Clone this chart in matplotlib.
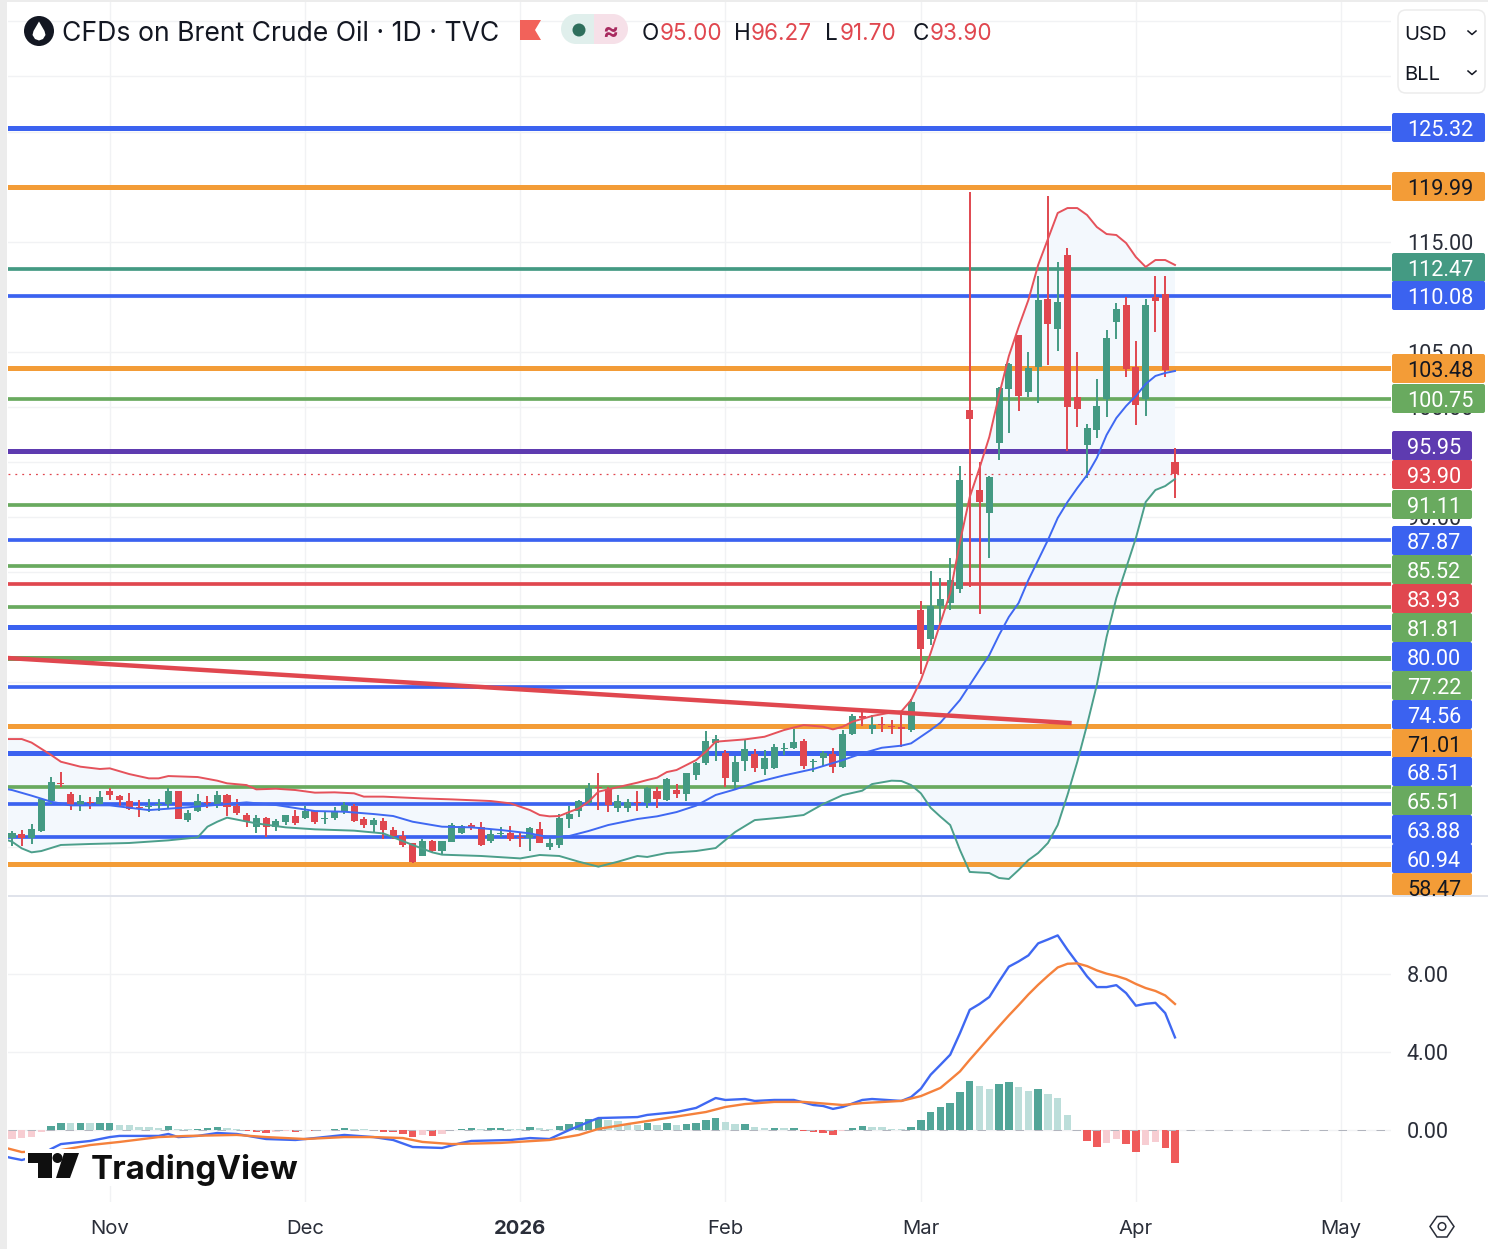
import numpy as np
import matplotlib
matplotlib.use("Agg")
import matplotlib.pyplot as plt
from matplotlib.patches import Rectangle, FancyBboxPatch, Circle, Polygon

plt.rcParams['font.family'] = ['Inter', 'DejaVu Sans']
NUM_FONT = ['Roboto', 'DejaVu Sans']

W, H_PX = 1488, 1249

# daily candles
opens = [60.86,61.22,60.80,61.47,64.16,65.86,64.86,63.74,64.10,63.92,
         65.10,64.68,64.16,63.62,63.68,63.86,63.89,65.07,62.47,63.25,
         64.10,63.92,64.71,63.71,62.89,61.80,62.65,61.86,62.28,62.80,
         62.65,63.25,62.56,62.62,63.16,63.71,62.56,62.01,62.37,61.53,
         61.01,60.35,59.23,60.59,59.62,60.50,61.32,62.01,61.80,60.56,
         61.16,61.25,60.89,60.86,61.65,59.98,60.17,62.53,63.28,64.01,
         65.43,65.28,63.59,63.59,64.13,64.04,65.07,64.28,65.18,64.86,
         66.55,67.64,69.43,68.52,65.95,67.82,68.46,67.13,67.16,68.94,
         68.97,69.64,67.70,68.07,68.46,67.25,70.25,71.88,70.76,71.15,
         70.97,70.91,70.64,81.54,78.91,81.91,82.18,83.45,99.71,92.44,
         90.35,96.71,101.61,106.52,101.34,103.61,109.79,107.06,113.79,100.89,
         96.53,97.89,100.71,107.70,109.24,103.61,100.71,109.97,110.24,95.00]
closes = [61.28,60.86,61.62,64.37,65.89,65.77,63.77,64.22,63.98,64.55,
          64.74,64.25,63.49,63.53,63.77,63.95,65.10,62.56,63.07,64.22,
          64.01,64.74,63.62,63.13,62.37,62.65,61.80,62.34,62.89,62.22,
          63.31,62.31,62.65,63.25,63.83,62.37,62.01,62.47,61.53,61.04,
          60.23,58.62,60.59,59.62,60.53,61.98,61.89,61.77,60.23,61.19,
          61.28,60.77,60.80,61.74,60.41,60.38,62.62,63.01,64.22,65.37,
          65.34,63.80,64.16,64.13,64.04,65.34,64.34,66.22,64.80,66.70,
          67.64,69.64,69.79,66.28,67.76,68.91,67.19,68.10,69.09,69.03,
          69.55,67.37,67.79,68.55,67.28,70.28,71.88,71.76,71.09,71.06,
          70.88,70.70,73.15,78.00,81.91,82.54,84.27,93.35,98.89,91.35,
          93.62,101.71,103.88,100.98,103.52,109.70,107.52,109.52,99.98,99.80,
          98.07,100.07,106.25,108.88,103.43,100.16,109.24,109.61,103.34,93.90]
highs = [61.47,61.56,62.07,64.43,66.34,66.79,65.01,64.71,64.55,65.10,
         65.34,64.77,64.92,64.28,64.37,64.34,65.34,65.10,63.37,64.83,
         64.68,65.10,64.83,64.34,63.07,62.92,62.71,62.53,62.95,63.37,
         63.74,63.31,63.16,63.62,64.10,63.92,62.77,62.68,62.62,61.80,
         61.47,60.41,60.71,60.65,60.59,62.16,62.01,62.16,62.25,61.62,
         61.80,61.92,61.34,61.86,62.28,60.86,63.01,63.77,64.31,65.83,
         66.76,65.43,64.74,64.34,65.07,65.43,65.43,66.25,65.70,66.76,
         67.70,70.55,70.18,68.79,68.28,69.73,68.91,68.79,69.37,69.49,
         70.75,69.79,67.97,68.70,68.97,70.61,72.09,72.39,72.00,71.85,
         71.55,72.30,73.45,82.36,85.08,84.45,86.26,94.62,119.51,94.98,
         93.71,101.80,103.98,106.52,104.97,111.88,119.14,113.15,114.42,104.97,
         98.44,102.52,106.97,109.43,109.97,105.97,109.79,111.88,111.88,96.27]
lows = [60.10,60.10,60.29,61.41,63.92,65.43,63.37,63.31,63.49,63.74,
        64.28,63.74,63.37,62.77,63.22,63.31,63.53,62.53,62.28,63.19,
        63.59,63.59,62.83,62.95,61.83,61.32,60.92,61.47,62.04,62.04,
        62.59,62.10,62.10,62.47,63.01,62.31,61.77,61.32,60.77,60.77,
        60.04,58.56,59.20,59.56,59.38,60.44,61.22,61.56,60.13,60.41,
        60.89,60.59,59.98,59.68,60.35,59.74,59.95,61.77,62.71,63.80,
        63.40,63.22,63.22,63.22,63.31,63.58,63.58,64.22,64.49,64.19,
        66.13,67.49,67.79,65.46,65.28,66.94,66.85,66.58,67.07,68.40,
        68.91,67.10,66.85,67.37,66.76,67.19,70.18,71.03,70.28,70.49,
        70.28,69.13,70.43,75.73,78.36,80.27,81.54,83.09,83.63,81.18,
        86.26,95.17,97.62,99.62,100.89,100.34,103.79,105.07,95.98,98.16,
        93.53,97.16,99.07,106.16,102.70,98.34,99.16,106.79,102.70,91.70]

# bollinger bands
upper_idx = [-1,1,2,4,5,7,9,10,12,14,15,16,19,21,22,24,25,27,29,31,33,35,36,38,42,45,49,51,53,54,55,56,57,58,59,60,61,64,
             65,66,67,68,69,70,71,72,75,77,79,81,83,84,85,86,88,90,91,92,93,94,96,97,98,99,100,101,102,103,104,105,106,107,
             108,109,110,111,112,113,114,115,116,117,118,119]
upper_val = [69.82,69.82,69.50,68.37,67.76,67.31,67.10,67.16,66.64,66.25,66.25,66.46,66.37,66.04,65.80,65.64,65.25,65.31,65.19,64.95,
             64.98,64.89,64.59,64.59,64.43,64.34,64.19,63.98,63.37,62.92,62.80,62.83,63.19,63.53,64.13,65.04,65.25,65.86,
             66.10,66.31,66.82,67.01,67.46,67.91,68.67,69.58,69.79,70.03,70.64,71.09,70.94,70.70,70.94,71.40,71.91,72.24,72.33,73.36,
             75.18,77.64,83.09,87.72,91.81,94.44,97.25,101.07,104.61,107.25,109.70,112.88,115.24,117.60,
             118.05,118.05,117.42,116.33,115.69,115.60,114.87,113.60,112.70,113.33,113.33,112.88]
basis_idx = [-1,0,2,4,6,10,14,18,22,24,27,31,34,37,39,41,44,47,50,53,55,57,59,61,64,66,68,70,72,74,76,79,82,85,87,89,91,92,94,95,
             97,98,99,100,101,102,103,104,105,106,107,108,109,110,111,112,113,114,115,116,117,118,119]
basis_val = [65.34,65.19,64.68,64.13,63.80,63.80,63.37,63.62,63.92,64.07,63.83,63.28,63.22,63.01,62.83,62.31,61.86,61.80,61.56,61.25,
             60.89,61.01,61.47,62.01,62.56,62.80,63.19,63.77,64.74,65.25,65.85,66.52,67.10,67.91,68.52,69.03,69.22,69.43,70.64,71.31,
             73.37,74.73,76.09,77.45,79.27,80.91,82.18,84.27,86.08,87.90,89.90,91.35,92.62,93.80,95.35,97.44,98.98,100.07,100.98,102.07,
             102.80,103.07,103.25]
lower_idx = [-1,0,1,2,3,5,8,12,16,19,20,21,22,25,28,31,35,38,41,43,44,48,52,54,56,58,60,62,64,65,67,70,72,74,76,79,81,83,85,87,88,
             90,91,92,93,94,95,96,97,98,100,101,102,103,104,105,106,107,108,109,110,111,112,113,114,115,116,117,118,119]
lower_val = [60.80,60.50,59.89,59.53,59.65,60.20,60.29,60.38,60.62,60.89,61.86,62.31,62.68,62.16,61.80,61.62,61.50,61.25,60.20,59.53,
             59.32,59.20,58.98,59.29,59.20,58.68,58.23,58.68,59.20,59.11,59.47,59.65,59.92,61.38,62.46,62.71,62.92,63.92,64.73,65.13,65.73,
             66.04,66.01,65.64,64.89,63.58,62.77,62.01,59.74,57.75,57.65,57.20,57.11,57.93,58.83,59.47,60.38,62.01,64.74,67.74,71.10,74.73,
             79.09,82.63,85.36,88.08,91.35,92.44,92.80,93.44]

# drawn levels
level_vals = [125.32,119.99,112.47,110.08,103.48,100.75,95.95,91.11,87.87,85.52,83.93,81.81,80.00,77.22,74.56,71.01,68.51,65.51,63.88,60.94,58.47]
level_cols = ['blue','orange','teal','blue','orange','green','purple','green','blue','green','red','green','blue','green','blue','orange','blue','green','blue','blue','orange']
level_px = [5,5,3.7,3.7,5,3.7,5,3.7,3.7,3.7,3.7,3.7,5,5,3.7,5,5,3.7,3.7,3.7,5]
last_close = 93.90
trend_idx = [-0.41, 108.2]
trend_val = [77.18, 71.28]

# macd pane
hist = [-0.51,-0.46,-0.37,-0.12,0.19,0.36,0.31,0.33,0.31,0.33,
        0.34,0.25,0.22,0.15,0.14,0.08,0.20,0.03,0.02,0.03,
        0.08,0.15,0.08,0.03,-0.08,-0.12,-0.19,-0.12,-0.08,-0.15,
        -0.05,-0.07,-0.05,0.03,0.08,0.03,0.02,-0.03,-0.12,-0.15,
        -0.24,-0.37,-0.27,-0.32,-0.24,-0.05,0.03,0.10,0.03,0.08,
        0.09,0.03,0.02,0.14,0.08,0.02,0.20,0.29,0.41,0.54,
        0.56,0.49,0.44,0.27,0.25,0.31,0.22,0.31,0.22,0.27,
        0.36,0.49,0.58,0.37,0.27,0.28,0.15,0.08,0.09,0.08,
        0.09,-0.07,-0.15,-0.16,-0.29,-0.10,0.08,0.19,0.15,0.14,
        0.03,0.02,0.15,0.49,0.92,1.14,1.36,1.92,2.51,2.26,
        2.09,2.34,2.44,2.17,1.97,2.09,1.83,1.61,0.76,0.00,
        -0.59,-0.90,-0.71,-0.51,-0.76,-1.15,-0.80,-0.65,-0.93,-1.72]
macd_idx = [-1,0,1,3,4,5,8,10,11,15,16,17,19,21,23,26,29,31,34,37,39,41,44,46,47,51,53,55,57,59,60,64,65,67,68,70,72,73,75,76,78,80,
            82,83,84,85,87,88,91,92,93,94,95,96,97,98,99,100,101,102,103,104,105,106,107,108,109,110,111,112,113,114,115,116,117,118,119]
macd_val = [-1.36,-1.47,-1.57,-1.31,-1.00,-0.75,-0.59,-0.39,-0.33,-0.33,-0.23,-0.39,-0.33,-0.18,-0.23,-0.49,-0.54,-0.44,-0.28,-0.39,-0.54,-0.90,
            -0.95,-0.69,-0.59,-0.54,-0.44,-0.49,-0.03,0.39,0.59,0.64,0.75,0.85,0.90,1.11,1.62,1.52,1.57,1.47,1.52,1.52,
            1.26,1.21,1.06,1.16,1.52,1.57,1.47,1.67,2.10,2.82,3.33,3.85,4.96,6.16,6.46,6.82,7.62,8.38,8.65,8.96,9.58,9.78,9.99,9.25,8.57,
            7.88,7.33,7.33,7.43,7.02,6.37,6.47,6.52,5.99,4.74]
signal_idx = [-1,1,5,8,11,15,18,23,26,30,34,37,40,42,45,50,55,58,60,63,67,71,73,75,78,81,85,87,91,93,95,
              96,97,98,99,100,101,102,103,104,105,106,107,108,109,110,111,112,113,114,115,116,117,118,119]
signal_val = [-0.90,-1.16,-1.06,-0.80,-0.64,-0.39,-0.33,-0.28,-0.39,-0.49,-0.39,-0.39,-0.44,-0.64,-0.75,-0.69,-0.54,-0.28,0.03,0.28,0.59,0.90,1.16,1.31,1.42,1.42,1.26,1.36,1.47,1.72,2.14,
              2.56,2.99,3.59,4.16,4.74,5.31,5.87,6.40,6.95,7.45,7.91,8.34,8.53,8.55,8.41,8.19,8.02,7.90,7.74,7.49,7.28,7.13,6.90,6.46]

# axis labels
month_idx = [10, 30, 52, 73, 93, 115, 136]
month_labels = ['Nov', 'Dec', '2026', 'Feb', 'Mar', 'Apr', 'May']
price_ticks = list(range(60, 140, 5))
price_shown = [90, 100, 105, 115]  # the others sit behind the badges
macd_ticks = [0, 4, 8]

# badges down the price scale
badge_texts = ['125.32','119.99','112.47','110.08','103.48','100.75','95.95','93.90','91.11','87.87','85.52','83.93','81.81','80.00','77.22','74.56','71.01','68.51','65.51','63.88','60.94','58.47']
badge_cols = ['blue','orange','teal','blue','orange','green','purple','red','green','blue','green','red','green','blue','green','blue','orange','blue','green','blue','blue','orange']
badge_tops = [113,172,253,281,354,384,431,460,490,526,555,584,613,642,671,700,729,757,786,815,844,873]

COLS = {'blue': '#3b62f0', 'orange': '#f39c37', 'teal': '#449a83', 'green': '#69aa5f', 'purple': '#5e3bb0', 'red': '#e0474f'}
UP, DOWN = '#449a83', '#e0474f'
TXT = '#2a2e39'

fig = plt.figure(figsize=(W / 100, H_PX / 100), dpi=100, facecolor='#ffffff')


def pane(left, top, right, bottom, **kw):
    return fig.add_axes([left / W, 1 - bottom / H_PX, (right - left) / W, (bottom - top) / H_PX], **kw)


def bar_x(px):
    return (px - 12) / 9.773


ax = pane(8, 2, 1391, 895)
ax_m = pane(8, 896, 1391, 1202)
for a in (ax, ax_m):
    a.set_xlim(bar_x(8), bar_x(1391))
    for s in a.spines.values():
        s.set_visible(False)
    a.set_xticks(month_idx)
    a.grid(True, color='#f1f2f4', lw=1.0)
    a.set_axisbelow(True)
    a.yaxis.tick_right()
    a.tick_params(axis='both', length=0, labelcolor=TXT, pad=11.5)
ax.set_ylim(125.32 - (895 - 128) / 11.01, 125.32 + 126 / 11.01)
ax_m.set_ylim((1129.5 - 1202) / 19.43, (1129.5 - 896) / 19.43)
ax.set_xticklabels([])
ax.set_yticks(price_ticks)
ax.set_yticklabels(['%.2f' % t if t in price_shown else '' for t in price_ticks], family=NUM_FONT, fontsize=15.6)
ax_m.set_yticks(macd_ticks)
ax_m.set_yticklabels(['%.2f' % t for t in macd_ticks], family=NUM_FONT, fontsize=15.6)
ax_m.set_xticks(month_idx)
ax_m.set_xticklabels(month_labels, fontsize=14.6)
ax_m.tick_params(axis='x', pad=13)
ax_m.get_xticklabels()[2].set_fontweight('bold')

# band fill and horizontal levels
ax.fill(np.r_[upper_idx, lower_idx[::-1]], np.r_[upper_val, lower_val[::-1]], color='#f3f8fd', lw=0, zorder=1)
for v, c, w in zip(level_vals, level_cols, level_px):
    ax.axhline(v, color=COLS[c], lw=w * 0.72, zorder=2)
ax.axhline(last_close, color=DOWN, lw=0.9, ls=(0, (1.5, 4)), zorder=2)

# candles
xs = np.arange(len(opens))
o, c, h, l = map(np.array, (opens, closes, highs, lows))
cols = np.where(c >= o, UP, DOWN)
ax.vlines(xs, l, h, colors=cols, lw=1.4, zorder=3)
ax.bar(xs, np.abs(c - o), bottom=np.minimum(o, c), width=0.72, color=cols, lw=0, zorder=3)

ax.plot(upper_idx, upper_val, color='#e5525b', lw=1.4, zorder=4)
ax.plot(basis_idx, basis_val, color='#3f68f2', lw=1.4, zorder=4)
ax.plot(lower_idx, lower_val, color='#4c9f8b', lw=1.4, zorder=4)
ax.plot(trend_idx, trend_val, color=DOWN, lw=3.2, zorder=5)

# macd pane
hist_cols = []
prev = hist[0]
for v in hist:
    if v >= 0:
        hist_cols.append('#52a598' if v > prev else '#bcdeda')
    else:
        hist_cols.append('#ef5b5b' if v < prev else '#f7cdd2')
    prev = v
ax_m.bar(np.arange(len(hist)), hist, width=0.76, color=hist_cols, lw=0, zorder=2)
ax_m.axhline(0, color='#b2b5be', lw=0.72, ls=(0, (8.5, 10.5)), zorder=3)
ax_m.plot(macd_idx, macd_val, color='#3f68f2', lw=1.7, zorder=4)
ax_m.plot(signal_idx, signal_val, color='#f5813c', lw=1.7, zorder=4)

# overlay in pixel coordinates for the chart's furniture
ui = fig.add_axes([0, 0, 1, 1], facecolor='none', zorder=10)
ui.set_xlim(0, W)
ui.set_ylim(H_PX, 0)
ui.axis('off')

ui.add_patch(Rectangle((0, 0), 7, H_PX, color='#ececec', lw=0))
ui.add_patch(Rectangle((0, 0), W, 2, color='#ececec', lw=0))
ui.add_patch(Rectangle((8, 895), 1480, 1.6, color='#e0e3eb', lw=0))

# symbol line
ui.add_patch(Circle((39, 31), 15, color='#131722', lw=0))
ui.add_patch(Polygon([(39, 21.5), (44.5, 31), (45.5, 35), (43, 39), (39, 40.5), (35, 39), (32.5, 35), (33.5, 31)], color='white', lw=0))
ui.text(62, 31, 'CFDs on Brent Crude Oil · 1D · TVC', fontsize=19.1, color='#131722', va='center_baseline', ha='left')
ui.add_patch(Polygon([(520, 20), (541, 20), (535, 30), (541, 40), (520, 40)], color='#f2625a', lw=0))
ui.add_patch(Rectangle((576, 14), 18, 30, color='#e0efec', lw=0))
ui.add_patch(Circle((576, 29), 15, color='#e0efec', lw=0))
ui.add_patch(Rectangle((594, 14), 19, 30, color='#f6e0e8', lw=0))
ui.add_patch(Circle((613, 29), 15, color='#f6e0e8', lw=0))
ui.add_patch(Circle((579, 30), 6.5, color='#2e6f5c', lw=0))
ui.text(610, 30, '≈', fontsize=17, fontweight='bold', color='#a82a5f', ha='center', va='center_baseline')
for lab, lx, val, vx in [('O', 642, '95.00', 660), ('H', 734, '96.27', 751), ('L', 825, '91.70', 840), ('C', 913, '93.90', 930)]:
    ui.text(lx, 31, lab, fontsize=16.2, color='#131722', va='center_baseline')
    ui.text(vx, 31, val, fontsize=16.2, color=DOWN, va='center_baseline')

# currency / unit box
ui.add_patch(FancyBboxPatch((1398, 10), 87, 83, boxstyle='round,pad=0,rounding_size=8', fc='white', ec='#ececec', lw=1.1))
for lab, y in [('USD', 33), ('BLL', 73)]:
    ui.text(1404, y, lab, fontsize=14.6, color='#131722', va='center_baseline')
    ui.plot([1468, 1472, 1476], [y - 2, y + 1.5, y - 2], color='#131722', lw=1.1)

# price badges
for i, (t, k, top) in enumerate(zip(badge_texts, badge_cols, badge_tops)):
    right = 1485 if i < 6 else 1472
    bottom = min(top + 29, 895)
    ui.add_patch(FancyBboxPatch((1392, top), right - 1392, bottom - top, boxstyle='round,pad=0,rounding_size=2', fc=COLS[k], ec='none', lw=0))
    tc = '#131722' if k == 'orange' else 'white'
    txt = ui.text(1407, top + 14.5, t, family=NUM_FONT, fontsize=15.6, color=tc, ha='left', va='center_baseline')
    txt.set_clip_path(Rectangle((1392, top), right - 1392, bottom - top, transform=ui.transData))

# tradingview mark
ui.add_patch(Rectangle((25, 1149), 278, 37, color='white', lw=0))
ui.add_patch(Polygon([(28, 1153), (52, 1153), (52, 1178), (38, 1178), (38, 1163), (28, 1163)], color='#0f0f0f', lw=0))
ui.add_patch(Circle((57.5, 1158), 5, color='#0f0f0f', lw=0))
ui.add_patch(Polygon([(64, 1153), (79, 1153), (70, 1178), (56, 1178)], color='#0f0f0f', lw=0))
ui.text(91, 1167, 'TradingView', fontsize=23.8, fontweight='bold', color='#0f0f0f', va='center_baseline')

# settings icon
ui.add_patch(Polygon([(1430, 1226.5), (1437, 1216.5), (1447, 1216.5), (1454, 1226.5), (1447, 1237), (1437, 1237)], fc='none', ec=TXT, lw=1.1))
ui.add_patch(Circle((1442, 1226.5), 3.8, fc='none', ec=TXT, lw=1.1))

fig.savefig('out.png', dpi=100)
